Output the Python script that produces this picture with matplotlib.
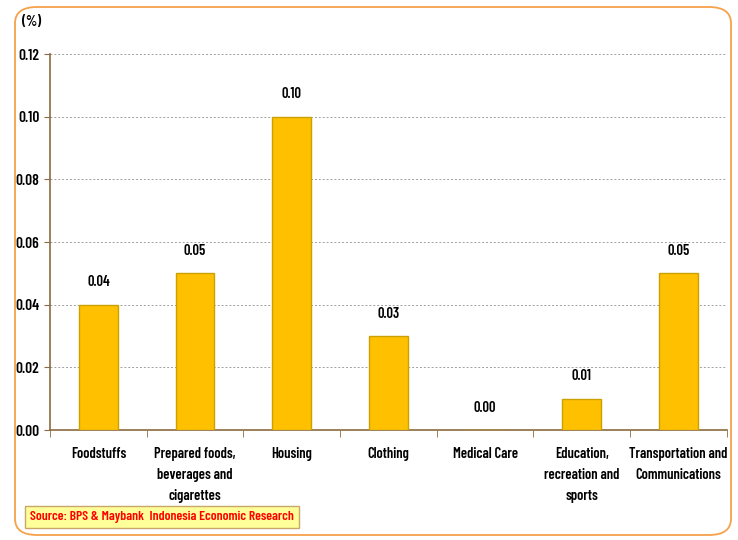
import matplotlib.pyplot as plt
from matplotlib.patches import FancyBboxPatch
import numpy as np

plt.rcParams['font.family'] = ['Barlow Condensed', 'DejaVu Sans']
plt.rcParams['font.weight'] = 600

categories = ['Foodstuffs', 'Prepared foods,\nbeverages and\ncigarettes', 'Housing',
              'Clothing', 'Medical Care', 'Education,\nrecreation and\nsports',
              'Transportation and\nCommunications']
values = [0.04, 0.05, 0.10, 0.03, 0.00, 0.01, 0.05]
yticks = [0.00, 0.02, 0.04, 0.06, 0.08, 0.10, 0.12]

fig = plt.figure(figsize=(7.38, 5.4), dpi=100)
ax = fig.add_axes([0.0678, 0.2037, 0.917, 0.6963])

x = np.arange(len(categories))
ax.bar(x, values, width=0.4, color='#FFC000', edgecolor='#C9A100', linewidth=1, zorder=3)

for xi, v in zip(x, values):
    ax.annotate(f'{v:.2f}', (xi, v), xytext=(0, 11), textcoords='offset points',
                ha='center', va='bottom', fontsize=10.5, fontweight=600)

ax.set_xlim(-0.5, len(categories) - 0.5)
ax.set_ylim(0, 0.12)
ax.set_yticks(yticks)
ax.set_yticklabels([f'{t:.2f}' for t in yticks], fontsize=11, fontweight=600)
ax.yaxis.grid(True, linestyle=(0, (2, 2)), color='#A0A0A0', linewidth=0.7, zorder=0)

ax.set_xticks(x)
ax.set_xticklabels(categories, fontsize=10.5, fontweight=600, linespacing=1.65)
ax.tick_params(axis='x', length=0, pad=12)
ax.set_xticks(np.arange(-0.5, len(categories)), minor=True)
ax.tick_params(axis='x', which='minor', length=5, color='#8B6B3F', direction='out')
ax.tick_params(axis='y', length=4, color='#8B6B3F', direction='out')

for side in ['top', 'right']:
    ax.spines[side].set_visible(False)
for side in ['left', 'bottom']:
    ax.spines[side].set_color('#8B6B3F')
    ax.spines[side].set_linewidth(1.2)

fig.text(22 / 738, 1 - 22 / 540, '(%)', fontsize=10.5, fontweight=600, va='center')

border = FancyBboxPatch((15 / 738, 5 / 540), 716 / 738, 528 / 540,
                        boxstyle='round,pad=0,rounding_size=0.03',
                        transform=fig.transFigure, fill=False,
                        edgecolor='#F7A14A', linewidth=1.3)
fig.patches.append(border)

fig.text(30 / 738, 1 - 517 / 540, 'Source: BPS & Maybank  Indonesia Economic Research',
         color='#FF0000', fontsize=9.8, fontweight=600, va='center',
         bbox=dict(boxstyle='square,pad=0.4', facecolor='#FFFF99', edgecolor='#C9A76B'))

fig.savefig('out.png', dpi=100)
